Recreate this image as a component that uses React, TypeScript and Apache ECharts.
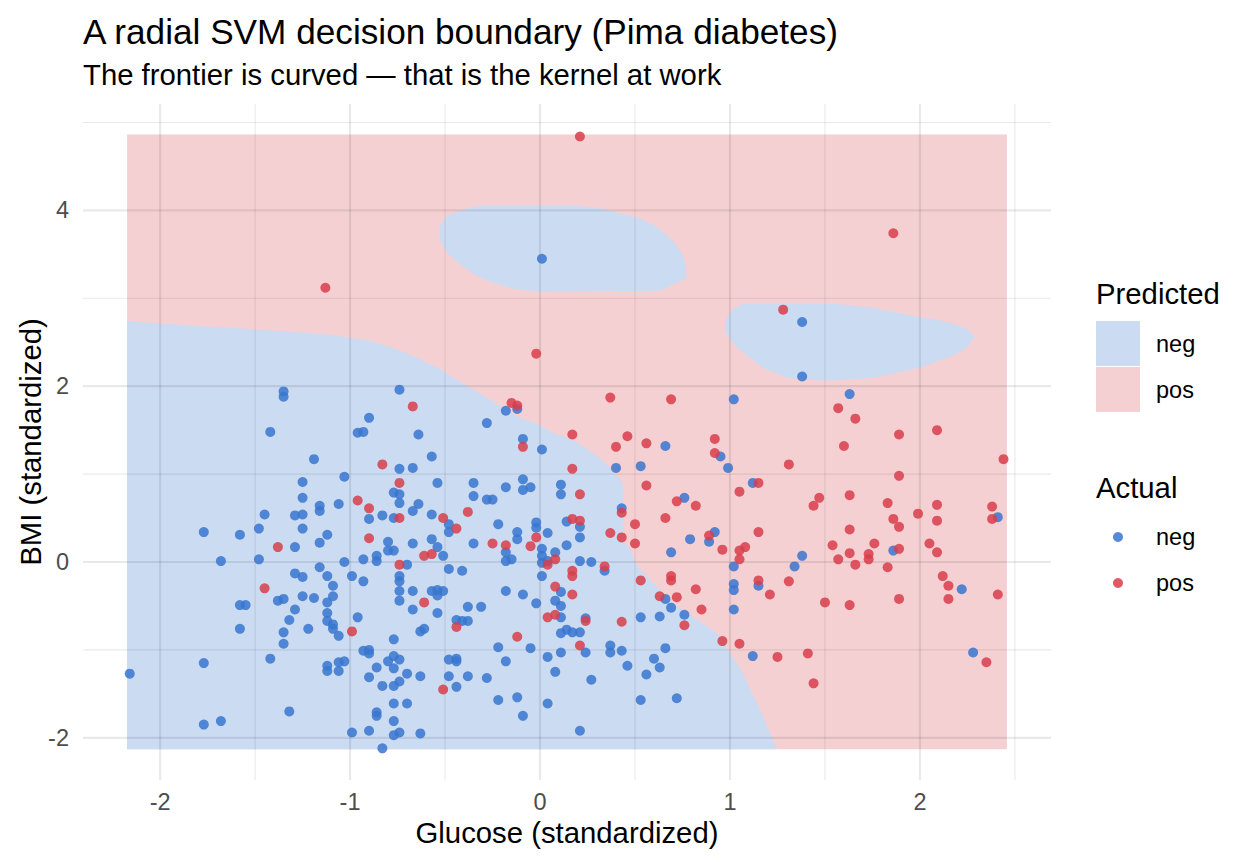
import React, { useEffect, useRef } from 'react';
import * as echarts from 'echarts';

// ---------- axes ----------
const X_TICKS = [-2, -1, 0, 1, 2];
const Y_TICKS = [-2, 0, 2, 4];
const X_MAJOR = [-2, -1, 0, 1, 2];
const X_MINOR = [-1.5, -0.5, 0.5, 1.5, 2.5];
const Y_MAJOR = [-2, 0, 2, 4];
const Y_MINOR = [-1, 1, 3, 5];
const X_LIMITS = [-2.406, 2.69];
const Y_LIMITS = [-2.48, 5.21];

// ---------- predicted regions (decision grid extent, and "neg" areas) ----------
const TILE_X = [-2.174, 2.458];
const TILE_Y = [-2.13, 4.863];

const NEG_REGION_MAIN: number[][] = [
  [-2.174, -2.13], [-2.174, 2.745], [-2.058, 2.722], [-1.826, 2.688], [-1.547, 2.654],
  [-1.316, 2.62], [-1.105, 2.585], [-0.895, 2.517], [-0.763, 2.426], [-0.632, 2.312],
  [-0.595, 2.267], [-0.526, 2.198], [-0.458, 2.096], [-0.384, 2.005], [-0.279, 1.868],
  [-0.195, 1.754], [-0.105, 1.64], [-0.016, 1.572], [0.068, 1.469], [0.158, 1.401],
  [0.247, 1.287], [0.332, 1.15], [0.395, 1.002], [0.421, 0.945], [0.437, 0.866],
  [0.437, 0.239], [0.474, 0.148], [0.511, -0.046], [0.595, -0.239], [0.7, -0.467],
  [0.774, -0.581], [0.879, -0.729], [0.947, -0.843], [1.0, -1.036], [1.068, -1.264],
  [1.116, -1.492], [1.158, -1.674], [1.195, -1.868], [1.247, -2.13],
];

const NEG_REGION_TOP: number[][] = [
  [-0.526, 3.827], [-0.489, 3.941], [-0.421, 3.998], [-0.316, 4.055], [0.189, 4.055],
  [0.326, 4.021], [0.405, 3.975], [0.511, 3.918], [0.595, 3.838], [0.658, 3.736],
  [0.711, 3.622], [0.753, 3.485], [0.768, 3.371], [0.768, 3.223], [0.695, 3.155],
  [0.632, 3.087], [0.0, 3.075], [-0.142, 3.109], [-0.263, 3.189], [-0.353, 3.28],
  [-0.432, 3.405], [-0.489, 3.519], [-0.526, 3.656],
];

const NEG_REGION_RIGHT: number[][] = [
  [0.974, 2.745], [1.016, 2.882], [1.068, 2.938], [1.553, 2.938], [1.747, 2.893],
  [1.858, 2.847], [1.984, 2.79], [2.089, 2.756], [2.174, 2.711], [2.247, 2.654],
  [2.289, 2.563], [2.247, 2.437], [2.174, 2.346], [2.0, 2.21], [1.753, 2.096],
  [1.511, 2.062], [1.3, 2.096], [1.174, 2.21], [1.089, 2.346], [1.026, 2.46],
  [0.974, 2.631],
];

// ---------- observations (actual class) ----------
const NEG_POINTS: number[][] = [
  [0.01, 3.45], [1.38, 2.73], [-1.35, 1.94], [-1.35, 1.88], [-0.74, 1.96], [-0.9, 1.64],
  [-0.96, 1.47], [-0.93, 1.48], [-0.64, 1.45], [-1.42, 1.48], [-1.19, 1.17], [-0.74, 1.06],
  [-0.67, 1.07], [-1.25, 0.91], [-1.03, 0.97], [-0.77, 0.79], [-0.74, 0.77], [-0.74, 0.67],
  [-1.25, 0.73], [-0.64, 0.66], [-1.16, 0.64], [-1.16, 0.58], [-1.06, 0.66], [-1.45, 0.54],
  [-1.29, 0.53], [-1.25, 0.54], [-0.67, 0.58], [-0.9, 0.49], [-0.83, 0.53], [-0.77, 0.5],
  [-1.77, 0.34], [-1.58, 0.31], [-1.48, 0.38], [-1.25, 0.38], [-1.12, 0.31], [-1.16, 0.22],
  [-0.8, 0.23], [-0.67, 0.21], [-1.29, 0.17], [-0.18, 1.72], [-0.12, 1.74], [-0.28, 1.58],
  [-0.09, 1.4], [0.01, 1.28], [0.66, 1.32], [0.95, 1.2], [-0.57, 1.2], [0.4, 1.07],
  [0.53, 1.09], [-0.54, 0.9], [-0.35, 0.9], [-0.18, 0.85], [-0.09, 0.94], [-0.09, 0.82],
  [-0.05, 0.85], [0.11, 0.88], [0.11, 0.77], [-0.35, 0.75], [-0.28, 0.71], [-0.25, 0.71],
  [-0.57, 0.54], [-0.48, 0.43], [-0.48, 0.34], [-0.57, 0.26], [-0.22, 0.43], [-0.12, 0.34],
  [-0.12, 0.26], [-0.02, 0.45], [-0.02, 0.39], [0.04, 0.33], [0.14, 0.46], [0.21, 0.4],
  [0.21, 0.28], [0.43, 0.61], [0.76, 0.73], [0.79, 0.26], [0.92, 0.34], [0.89, 0.23],
  [-0.35, 0.21], [0.14, 0.19], [-0.54, 0.17], [1.38, 2.11], [1.02, 1.85], [1.63, 1.91],
  [0.99, 1.07], [1.12, 0.9], [2.41, 0.51], [1.38, 0.07], [1.34, -0.05], [1.02, -0.05],
  [1.86, 0.13], [2.22, -0.31], [1.15, -0.27], [1.02, -0.25], [1.02, -0.32], [1.02, -0.54],
  [1.12, -1.07], [2.28, -1.03], [-0.51, 0.07], [-0.18, 0.11], [-0.18, 0.01], [-0.15, 0.03],
  [0.01, 0.15], [0.01, 0.07], [0.01, -0.01], [0.08, 0.11], [0.04, 0.01], [0.21, 0.01],
  [0.27, 0.0], [0.34, -0.1], [0.01, -0.16], [-0.48, -0.08], [-0.41, -0.1], [0.69, 0.11],
  [0.66, -0.42], [0.69, -0.52], [0.76, -0.6], [0.63, -0.62], [0.53, -0.63], [-0.57, -0.33],
  [-0.54, -0.32], [-0.51, -0.33], [-0.54, -0.38], [-0.54, -0.58], [-0.38, -0.51], [-0.31, -0.51],
  [-0.18, -0.33], [-0.09, -0.37], [-0.02, -0.47], [0.11, -0.34], [0.08, -0.44], [0.11, -0.5],
  [0.11, -0.63], [0.24, -0.64], [-0.44, -0.66], [-0.41, -0.67], [-0.38, -0.67], [-0.61, -0.76],
  [-0.63, -0.79], [0.14, -0.77], [0.17, -0.8], [0.21, -0.8], [0.11, -0.81], [-0.22, -0.97],
  [-0.05, -0.98], [0.24, -1.03], [0.11, -1.03], [0.04, -1.08], [0.37, -0.95], [0.37, -1.03],
  [0.43, -1.01], [0.46, -1.18], [0.66, -0.98], [0.6, -1.1], [0.63, -1.2], [0.56, -1.28],
  [-0.48, -1.11], [-0.44, -1.1], [-0.44, -1.13], [-0.18, -1.13], [-0.63, -1.3], [-0.48, -1.3],
  [-0.38, -1.3], [-0.28, -1.32], [0.08, -1.25], [0.27, -1.34], [-0.44, -1.42], [-0.22, -1.57],
  [-0.12, -1.54], [0.04, -1.61], [-0.09, -1.75], [0.53, -1.57], [0.72, -1.55], [0.21, -1.92],
  [-0.63, -1.95], [-1.68, 0.01], [-1.48, 0.03], [-1.03, 0.0], [-0.93, 0.03], [-0.86, 0.07],
  [-0.86, 0.01], [-0.8, 0.13], [-0.77, 0.13], [-0.7, -0.03], [-1.29, -0.13], [-1.25, -0.17],
  [-1.16, -0.06], [-1.12, -0.16], [-0.99, -0.16], [-0.93, -0.22], [-0.74, -0.16], [-0.74, -0.22],
  [-0.74, -0.33], [-0.74, -0.44], [-0.67, -0.33], [-0.67, -0.54], [-1.09, -0.27], [-1.09, -0.39],
  [-1.25, -0.39], [-1.19, -0.41], [-1.38, -0.44], [-1.35, -0.42], [-1.58, -0.49], [-1.55, -0.49],
  [-1.12, -0.46], [-1.29, -0.54], [-1.12, -0.58], [-1.12, -0.67], [-1.32, -0.66], [-0.96, -0.63],
  [-1.09, -0.71], [-1.09, -0.76], [-1.06, -0.84], [-1.22, -0.76], [-1.35, -0.8], [-1.35, -0.93],
  [-1.58, -0.76], [-0.77, -0.88], [-0.93, -1.01], [-0.9, -1.0], [-0.9, -1.04], [-1.42, -1.1],
  [-1.77, -1.15], [-2.16, -1.27], [-0.8, -1.13], [-0.77, -1.07], [-0.74, -1.11], [-1.12, -1.18],
  [-1.12, -1.24], [-1.06, -1.14], [-1.03, -1.13], [-1.06, -1.24], [-0.86, -1.2], [-0.77, -1.21],
  [-0.7, -1.27], [-0.9, -1.31], [-0.74, -1.36], [-0.83, -1.41], [-0.77, -1.41], [-1.32, -1.7],
  [-0.77, -1.61], [-0.7, -1.61], [-0.86, -1.71], [-0.86, -1.75], [-0.77, -1.81], [-1.77, -1.85],
  [-1.68, -1.81], [-0.99, -1.94], [-0.9, -1.92], [-0.77, -1.97], [-0.74, -1.94], [-0.83, -2.12],
];

const POS_POINTS: number[][] = [
  [-1.13, 3.12], [0.21, 4.84], [1.86, 3.74], [1.28, 2.87], [-0.67, 1.77], [-0.83, 1.11],
  [-0.74, 0.9], [-0.96, 0.7], [-0.9, 0.61], [-0.74, 0.5], [-0.9, 0.27], [-1.38, 0.17],
  [-0.02, 2.37], [-0.15, 1.81], [-0.12, 1.78], [0.37, 1.87], [0.69, 1.85], [0.17, 1.45],
  [-0.09, 1.31], [0.46, 1.43], [0.4, 1.31], [0.56, 1.35], [0.92, 1.4], [0.92, 1.24],
  [0.17, 1.06], [0.21, 0.77], [0.56, 0.87], [-0.38, 0.57], [-0.51, 0.5], [-0.44, 0.38],
  [-0.02, 0.28], [0.17, 0.49], [0.21, 0.47], [0.43, 0.56], [0.5, 0.43], [0.37, 0.33],
  [0.43, 0.28], [0.66, 0.5], [0.72, 0.69], [0.82, 0.64], [0.89, 0.3], [-0.25, 0.21],
  [-0.18, 0.19], [-0.05, 0.18], [0.5, 0.21], [1.57, 1.75], [1.66, 1.63], [1.89, 1.45],
  [2.09, 1.5], [1.6, 1.32], [2.44, 1.17], [1.31, 1.11], [1.89, 0.98], [1.15, 0.9],
  [1.05, 0.8], [1.47, 0.73], [1.44, 0.64], [1.63, 0.76], [1.83, 0.67], [2.09, 0.65],
  [1.99, 0.55], [1.86, 0.49], [1.89, 0.4], [2.09, 0.47], [2.38, 0.63], [2.38, 0.49],
  [1.15, 0.34], [1.63, 0.37], [1.54, 0.19], [1.76, 0.21], [2.05, 0.21], [1.08, 0.17],
  [1.89, 0.15], [0.96, 0.14], [1.05, 0.13], [1.05, 0.03], [1.63, 0.1], [1.57, 0.03],
  [1.66, -0.03], [1.73, 0.09], [1.73, 0.03], [1.83, -0.06], [2.09, 0.11], [2.12, -0.16],
  [2.15, -0.27], [2.15, -0.42], [2.41, -0.37], [1.89, -0.42], [1.63, -0.49], [1.5, -0.46],
  [1.31, -0.22], [1.21, -0.37], [1.15, -0.21], [0.96, -0.9], [1.05, -0.93], [1.25, -1.08],
  [1.41, -1.04], [1.44, -1.38], [2.35, -1.14], [-0.61, 0.07], [-0.57, 0.09], [0.08, 0.03],
  [0.04, -0.03], [0.34, -0.05], [0.17, -0.1], [0.17, -0.16], [0.53, -0.21], [0.69, -0.16],
  [0.69, -0.21], [0.82, -0.31], [0.63, -0.39], [0.72, -0.4], [0.85, -0.54], [0.76, -0.72],
  [0.43, -0.68], [-0.61, -0.46], [0.08, -0.28], [0.17, -0.37], [0.04, -0.63], [0.08, -0.6],
  [0.24, -0.67], [-0.44, -0.74], [-0.12, -0.85], [0.21, -0.95], [-0.51, -1.45], [-0.74, -0.03],
  [-1.45, -0.3], [-0.99, -0.79],
];

// ---------- styling constants ----------
const FONT = '"Liberation Sans", Arial, Helvetica, sans-serif';
const NEG_FILL = '#CBDBF1';
const POS_FILL = '#F5D0D3';
const NEG_DOT = '#3876cf';
const POS_DOT = '#d83e4b';
const GRID_STROKE = 'rgba(0,0,0,0.085)';

export default function App() {
  const ref = useRef<HTMLDivElement>(null);

  useEffect(() => {
    if (!ref.current) return;
    const chart = echarts.init(ref.current, undefined, { renderer: 'svg' });

    const negRegions = [NEG_REGION_MAIN, NEG_REGION_TOP, NEG_REGION_RIGHT];
    const regionData = [[0, 0], [1, 0], [2, 0], [3, 0]];

    const gridData: number[][] = [
      ...X_MAJOR.map((v) => [0, v, 1]),
      ...X_MINOR.map((v) => [0, v, 0]),
      ...Y_MAJOR.map((v) => [1, v, 1]),
      ...Y_MINOR.map((v) => [1, v, 0]),
    ];

    const txt = (text: string, x: number, y: number, size: number, fill: string, align = 'left', rotation = 0) => ({
      type: 'text',
      x,
      y,
      rotation,
      silent: true,
      style: {
        text,
        fill,
        fontSize: size,
        fontFamily: FONT,
        align,
        textAlign: align,
        verticalAlign: 'middle',
        textVerticalAlign: 'middle',
      },
    });

    const option: any = {
      animation: false,
      backgroundColor: '#ffffff',
      grid: { left: 83, top: 104, width: 968, height: 676, containLabel: false },
      xAxis: {
        type: 'value',
        min: X_LIMITS[0],
        max: X_LIMITS[1],
        axisLine: { show: false },
        axisTick: { show: false },
        splitLine: { show: false },
        axisLabel: {
          customValues: X_TICKS,
          fontSize: 23.5,
          color: '#4D4D4D',
          fontFamily: FONT,
          margin: 10,
          formatter: (v: number) => String(v),
        },
      },
      yAxis: {
        type: 'value',
        min: Y_LIMITS[0],
        max: Y_LIMITS[1],
        axisLine: { show: false },
        axisTick: { show: false },
        splitLine: { show: false },
        axisLabel: {
          customValues: Y_TICKS,
          fontSize: 23.5,
          color: '#4D4D4D',
          fontFamily: FONT,
          margin: 14,
          formatter: (v: number) => String(v),
        },
      },
      series: [
        {
          type: 'custom',
          name: 'Predicted',
          z: 1,
          silent: true,
          data: regionData,
          renderItem: (params: any, api: any) => {
            const idx = api.value(0);
            if (idx === 0) {
              const p1 = api.coord([TILE_X[0], TILE_Y[1]]);
              const p2 = api.coord([TILE_X[1], TILE_Y[0]]);
              return {
                type: 'rect',
                shape: { x: p1[0], y: p1[1], width: p2[0] - p1[0], height: p2[1] - p1[1] },
                style: { fill: POS_FILL },
              };
            }
            const poly = negRegions[idx - 1];
            return {
              type: 'polygon',
              shape: { points: poly.map((p) => api.coord(p)) },
              style: { fill: NEG_FILL },
            };
          },
        },
        {
          type: 'custom',
          name: 'grid',
          z: 2,
          silent: true,
          data: gridData,
          renderItem: (params: any, api: any) => {
            const axis = api.value(0);
            const v = api.value(1);
            const major = api.value(2);
            const cs = params.coordSys;
            if (axis === 0) {
              const p = api.coord([v, 0]);
              return {
                type: 'line',
                shape: { x1: p[0], y1: cs.y, x2: p[0], y2: cs.y + cs.height },
                style: { stroke: GRID_STROKE, lineWidth: major ? 2.2 : 1.1 },
              };
            }
            const p = api.coord([0, v]);
            return {
              type: 'line',
              shape: { x1: cs.x, y1: p[1], x2: cs.x + cs.width, y2: p[1] },
              style: { stroke: GRID_STROKE, lineWidth: major ? 2.2 : 1.1 },
            };
          },
        },
        {
          type: 'scatter',
          name: 'neg',
          z: 5,
          symbol: 'circle',
          symbolSize: 10,
          data: NEG_POINTS,
          itemStyle: { color: NEG_DOT, opacity: 0.85 },
        },
        {
          type: 'scatter',
          name: 'pos',
          z: 5,
          symbol: 'circle',
          symbolSize: 10,
          data: POS_POINTS,
          itemStyle: { color: POS_DOT, opacity: 0.85 },
        },
      ],
      graphic: [
        txt('A radial SVM decision boundary (Pima diabetes)', 83, 31, 35.2, '#000000'),
        txt('The frontier is curved \u2014 that is the kernel at work', 83, 74, 29.3, '#000000'),
        txt('Glucose (standardized)', 567, 832, 29.3, '#000000', 'center'),
        txt('BMI (standardized)', 30, 442, 29.3, '#000000', 'center', Math.PI / 2),
        txt('Predicted', 1096, 293, 29.3, '#000000'),
        { type: 'rect', silent: true, shape: { x: 1096, y: 321, width: 44, height: 45 }, style: { fill: NEG_FILL } },
        { type: 'rect', silent: true, shape: { x: 1096, y: 367, width: 44, height: 45 }, style: { fill: POS_FILL } },
        txt('neg', 1156, 344, 23.5, '#000000'),
        txt('pos', 1156, 390, 23.5, '#000000'),
        txt('Actual', 1096, 487, 29.3, '#000000'),
        { type: 'circle', silent: true, shape: { cx: 1118, cy: 537, r: 5 }, style: { fill: NEG_DOT, opacity: 0.85 } },
        { type: 'circle', silent: true, shape: { cx: 1118, cy: 583, r: 5 }, style: { fill: POS_DOT, opacity: 0.85 } },
        txt('neg', 1156, 537, 23.5, '#000000'),
        txt('pos', 1156, 583, 23.5, '#000000'),
      ],
    };

    chart.setOption(option);
    return () => chart.dispose();
  }, []);

  return (
    <div
      ref={ref}
      style={{ position: 'fixed', left: 0, top: 0, width: 1248, height: 864, background: '#fff' }}
    />
  );
}
